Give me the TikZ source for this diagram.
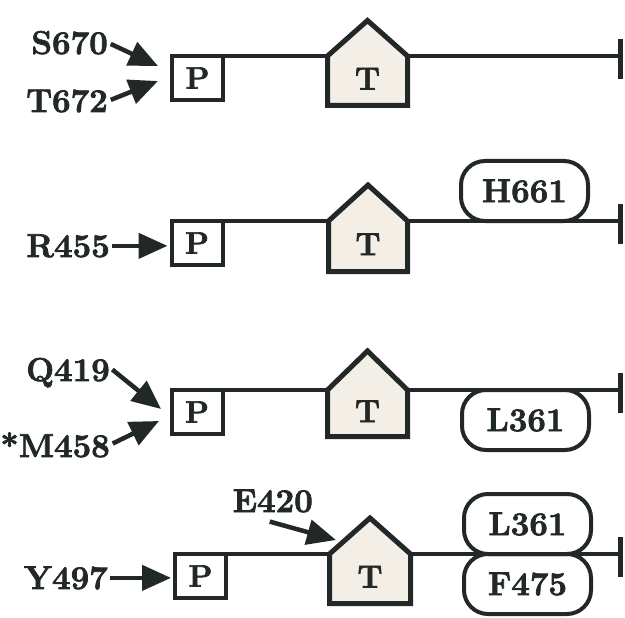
\documentclass[tikz,border=0pt]{standalone}
\usepackage{fontspec}
\setmainfont{Latin Modern Roman}[BoldFeatures={FakeBold=2.2}]
\usetikzlibrary{arrows.meta,calc}
\definecolor{ink}{HTML}{222828}
\definecolor{housefill}{HTML}{F3EEE6}
\newcommand\House[6]{% name, xl, xr, yline, ypeak, ybottom
  \draw[house] (#2,#4) -- ({(#2+#3)/2},#5) -- (#3,#4) -- (#3,#6) -- (#2,#6) -- cycle;
  \coordinate (#1l) at (#2,#4);
  \coordinate (#1r) at (#3,#4);
  \node[tlbl] (#1) at ({(#2+#3)/2},{(#4+#6)/2-2}) {T};
}
\begin{document}
\begin{tikzpicture}[x=1pt,y=-1pt,
  font=\fontsize{33}{33}\selectfont\bfseries,
  lbl/.style={inner sep=0pt, text=ink, anchor=base east},
  tlbl/.style={inner sep=0pt, text=ink, font=\fontsize{32}{32}\selectfont\bfseries},
  pbox/.style={draw=ink, line width=4pt, outer sep=0pt, minimum width=51pt, minimum height=44pt, inner sep=0pt, text=ink, font=\fontsize{31}{31}\selectfont\bfseries},
  rbox/.style={draw=ink, line width=4pt, rounded corners=24pt, outer sep=0pt, minimum width=127pt, minimum height=60pt, inner sep=0pt, text=ink},
  house/.style={draw=ink, fill=housefill, line width=5pt, line join=miter},
  dna/.style={draw=ink, line width=4pt},
  endbar/.style={draw=ink, line width=5pt},
  arr/.style={draw=ink, line width=4.5pt, -{Triangle[length=29pt,width=25pt]}},
]
\useasboundingbox[fill=white] (0,0) rectangle (625,618);

% ---------- Row 1 ----------
\node[pbox] (p1) at (197.5,78) {P};
\House{h1}{327.5}{407.5}{56}{20.5}{105.5}
\coordinate (e1) at (620,56);
\draw[dna] (p1.north east) -- (h1l);
\draw[dna] (h1r) -- (e1);
\draw[endbar] ($(e1)+(0,-17)$) -- ($(e1)+(0,23)$);
\node[lbl] (s670) at (108,54) {S670};
\node[lbl] (t672) at (108,112) {T672};
\coordinate (a1) at (158,66);
\coordinate (a2) at (158,81);
\draw[arr, shorten <=3pt] (s670.east) -- (a1);
\draw[arr, shorten <=3pt] (t672.east) -- (a2);

% ---------- Row 2 ----------
\node[pbox] (p2) at (197,243) {P};
\House{h2}{328.5}{407.5}{221}{185}{271.5}
\coordinate (e2) at (620,221);
\draw[dna] (p2.north east) -- (h2l);
\draw[dna] (h2r) -- (e2);
\draw[endbar] ($(e2)+(0,-17)$) -- ($(e2)+(0,23)$);
\node[rbox] (h661) at (524.5,191) {H661};
\node[lbl] (r455) at (110,257) {R455};
\draw[arr, shorten <=2pt, shorten >=4pt] (r455.east) -- (p2.west |- r455.east);

% ---------- Row 3 ----------
\node[pbox] (p3) at (197,412) {P};
\House{h3}{327.5}{407.5}{390}{351}{436.5}
\coordinate (e3) at (620,390);
\draw[dna] (p3.north east) -- (h3l);
\draw[dna] (h3r) -- (e3);
\draw[endbar] ($(e3)+(0,-17)$) -- ($(e3)+(0,23)$);
\node[rbox] (l361a) at (525.5,420) {L361};
\node[lbl] (q419) at (110,381) {Q419};
\node[lbl] (m458) at (110,457) {*M458};
\coordinate (a3) at (161,409);
\coordinate (a4) at (159,421);
\draw[arr, shorten <=3pt] ($(q419.east)+(0,-5)$) -- (a3);
\draw[arr, shorten <=3pt] (m458.east) -- (a4);

% ---------- Row 4 ----------
\node[pbox] (p4) at (200.5,576) {P};
\House{h4}{329.5}{410.5}{554}{518}{603.5}
\coordinate (e4) at (620,554);
\draw[dna] (p4.north east) -- (h4l);
\draw[dna] (h4r) -- (e4);
\draw[endbar] ($(e4)+(0,-17)$) -- ($(e4)+(0,23)$);
\node[rbox] (l361b) at (527.5,524) {L361};
\node[rbox] (f475) at (527.5,584) {F475};
\node[lbl] (y497) at (108,589) {Y497};
\draw[arr, shorten <=2pt, shorten >=4pt] (y497.east) -- (p4.west |- y497.east);
\node[lbl] (e420) at (313,512) {E420};
\coordinate (a5) at (336,540);
\draw[arr] ($(e420.south)+(-3,9)$) -- (a5);
\end{tikzpicture}
\end{document}
